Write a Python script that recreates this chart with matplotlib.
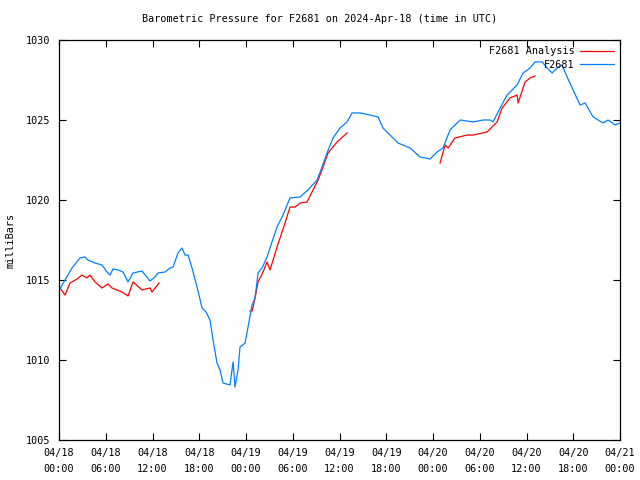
import numpy as np
import matplotlib
matplotlib.use('Agg')
import matplotlib.pyplot as plt

# hours since 2024-04-18 00:00 UTC, pressure in mb
obs_hours = [0.13, 0.77, 1.67, 2.70, 3.34, 3.72, 4.62, 5.52, 6.16, 6.55, 6.93, 7.57, 8.22, 8.86,
             9.50, 10.65, 11.68, 12.32, 12.71, 13.61, 14.25, 14.63, 15.28, 15.79, 16.17, 16.56,
             17.07, 17.72, 18.36, 18.87, 19.38, 19.77, 20.28, 20.67, 21.05, 21.95, 22.34, 22.59,
             22.98, 23.23, 23.88, 24.26, 24.78, 25.16, 25.55, 26.06, 26.70, 27.34, 27.98, 28.75,
             29.65, 30.94, 31.96, 33.12, 33.76, 34.40, 35.17, 36.07, 36.97, 37.61, 38.64, 39.92,
             40.95, 41.59, 42.49, 43.52, 45.06, 46.34, 47.63, 48.52, 49.29, 50.19, 51.48, 53.14,
             54.43, 55.33, 55.71, 56.61, 57.51, 58.79, 59.56, 60.46, 61.10, 62.00, 62.64, 63.29,
             63.93, 64.57, 65.21, 65.98, 66.88, 67.52, 68.55, 69.83, 70.48, 71.37, 72.0]
obs_mb = [1014.44, 1015.0, 1015.75, 1016.38, 1016.44, 1016.25, 1016.06, 1015.94, 1015.5, 1015.31,
          1015.69, 1015.63, 1015.5, 1014.88, 1015.44, 1015.56, 1014.94, 1015.19, 1015.44, 1015.5,
          1015.75, 1015.81, 1016.69, 1017.0, 1016.56, 1016.56, 1015.75, 1014.56, 1013.25, 1013.0,
          1012.5, 1011.25, 1009.81, 1009.38, 1008.56, 1008.44, 1009.88, 1008.31, 1009.38, 1010.81,
          1011.06, 1012.06, 1013.44, 1013.88, 1015.44, 1015.75, 1016.44, 1017.38, 1018.31, 1019.06,
          1020.13, 1020.19, 1020.63, 1021.25, 1022.06, 1022.94, 1023.88, 1024.5, 1024.88, 1025.44,
          1025.44, 1025.31, 1025.19, 1024.5, 1024.06, 1023.56, 1023.25, 1022.69, 1022.56, 1023.0,
          1023.25, 1024.38, 1025.0, 1024.88, 1025.0, 1025.0, 1024.88, 1025.75, 1026.56, 1027.19,
          1027.94, 1028.25, 1028.63, 1028.63, 1028.25, 1027.94, 1028.25, 1028.44, 1027.69, 1026.88,
          1025.94, 1026.06, 1025.19, 1024.81, 1025.0, 1024.69, 1024.81]

# analysis comes in three runs, NaN marks the gaps
ana_hours = [0.13, 0.77, 1.41, 2.31, 2.95, 3.59, 3.98, 4.62, 5.52, 6.29, 6.80, 8.09, 8.86, 9.50,
             10.65, 11.68, 11.94, 12.84, np.nan,
             24.52, 24.78, 25.16, 25.55, 26.19, 26.70, 27.09, 27.98, 29.01, 29.65, 30.30, 30.94,
             31.84, 32.61, 33.25, 33.89, 34.53, 35.69, 36.97, np.nan,
             48.91, 49.55, 49.94, 50.83, 52.37, 53.14, 54.94, 56.23, 56.87, 57.89, 58.79, 58.92,
             59.82, 60.46, 61.10]
ana_mb = [1014.5, 1014.06, 1014.81, 1015.06, 1015.31, 1015.13, 1015.31, 1014.88, 1014.5, 1014.75,
          1014.5, 1014.25, 1014.0, 1014.88, 1014.38, 1014.5, 1014.25, 1014.81, np.nan,
          1013.06, 1013.06, 1013.88, 1014.88, 1015.5, 1016.13, 1015.63, 1017.06, 1018.56, 1019.56,
          1019.56, 1019.81, 1019.88, 1020.63, 1021.25, 1022.06, 1022.94, 1023.63, 1024.19, np.nan,
          1022.31, 1023.44, 1023.25, 1023.88, 1024.06, 1024.06, 1024.25, 1024.88, 1025.75, 1026.38,
          1026.56, 1026.06, 1027.38, 1027.63, 1027.75]

tick_hours = [0, 6, 12, 18, 24, 30, 36, 42, 48, 54, 60, 66, 72]
tick_labels = ['04/18\n00:00', '04/18\n06:00', '04/18\n12:00', '04/18\n18:00',
               '04/19\n00:00', '04/19\n06:00', '04/19\n12:00', '04/19\n18:00',
               '04/20\n00:00', '04/20\n06:00', '04/20\n12:00', '04/20\n18:00',
               '04/21\n00:00']

plt.rcParams['font.family'] = 'DejaVu Sans Mono'
plt.rcParams['font.size'] = 7.3

fig = plt.figure(figsize=(6.4, 4.8), dpi=100)
ax = fig.add_axes([59 / 640, 1 - 440 / 480, 561 / 640, 400 / 480])

ax.plot(ana_hours, ana_mb, color='#ff0000', lw=0.9, label='F2681 Analysis')
ax.plot(obs_hours, obs_mb, color='#0080ff', lw=0.9, label='F2681')

ax.set_xlim(0, 72)
ax.set_ylim(1005, 1030)
ax.set_xticks(tick_hours)
ax.set_xticklabels(tick_labels, linespacing=1.7)
ax.set_yticks([1005, 1010, 1015, 1020, 1025, 1030])
ax.tick_params(direction='in', length=5, width=0.8, top=True, right=True, pad=6)
for s in ax.spines.values():
    s.set_linewidth(0.9)

ax.set_ylabel('milliBars', labelpad=8)
fig.text(0.5, 1 - 19 / 480, 'Barometric Pressure for F2681 on 2024-Apr-18 (time in UTC)',
         ha='center', va='center')

ax.legend(loc='upper right', frameon=False, markerfirst=False, handlelength=3.3,
          borderaxespad=0.2, labelspacing=0.35, handletextpad=0.6)

fig.savefig('out.png', dpi=100)
